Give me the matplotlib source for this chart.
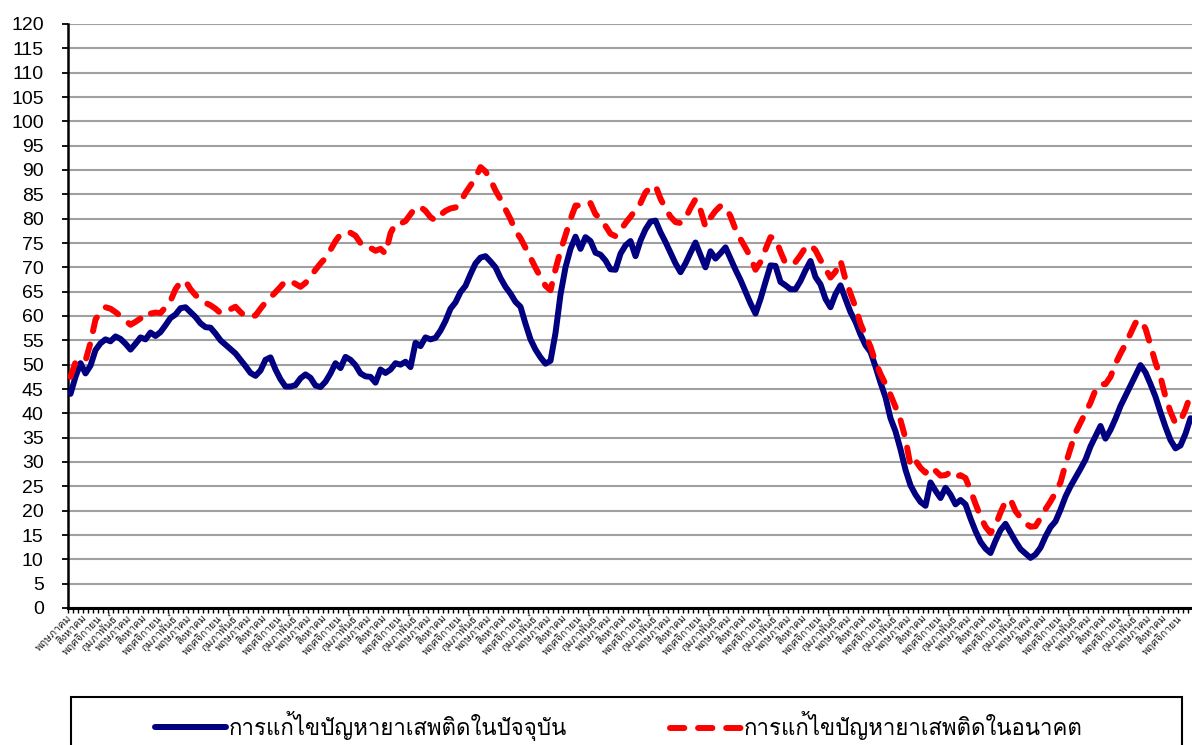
import matplotlib
matplotlib.use("Agg")
import matplotlib.pyplot as plt
from matplotlib import font_manager
from matplotlib.ft2font import FT2Font
from matplotlib.lines import Line2D
from matplotlib.patches import Rectangle
import numpy as np

# month labels shown every third month (quarterly), starting May
quarter_months = ["พฤษภาคม", "สิงหาคม", "พฤศจิกายน", "กุมภาพันธ์"]

series_names = ["การแก้ไขปัญหายาเสพติดในปัจจุบัน", "การแก้ไขปัญหายาเสพติดในอนาคต"]

present = [
    44.0, 47.5, 50.3, 48.2, 49.8, 53.0, 54.4, 55.2, 54.8, 55.8, 55.3, 54.3, 53.1, 54.3, 55.6,
    55.2, 56.6, 55.9, 56.7, 58.1, 59.6, 60.3, 61.6, 61.8, 60.8, 59.8, 58.5, 57.7, 57.6, 56.4,
    55.0, 54.1, 53.2, 52.3, 51.0, 49.7, 48.3, 47.7, 48.8, 51.0, 51.5, 49.0, 47.0, 45.5, 45.5,
    45.8, 47.2, 48.0, 47.3, 45.7, 45.4, 46.5, 48.2, 50.3, 49.3, 51.6, 51.0, 49.9, 48.2, 47.6,
    47.5, 46.3, 49.0, 48.3, 49.0, 50.3, 50.0, 50.6, 49.5, 54.5, 53.8, 55.6, 55.2, 55.5, 57.0,
    59.0, 61.5, 62.8, 64.9, 66.2, 68.6, 70.8, 72.0, 72.3, 71.2, 70.0, 67.8, 66.0, 64.6, 62.9,
    61.9, 58.4, 55.2, 53.1, 51.5, 50.2, 50.8, 56.5, 64.4, 70.0, 73.8, 76.3, 73.8, 76.2, 75.4,
    73.0, 72.6, 71.4, 69.6, 69.5, 72.8, 74.5, 75.4, 72.3, 75.5, 77.8, 79.4, 79.6, 77.2, 75.2,
    73.0, 70.8, 69.0, 70.8, 73.0, 75.1, 72.5, 70.0, 73.3, 71.8, 72.9, 74.1, 71.8, 69.5, 67.4,
    65.0, 62.6, 60.5, 63.5, 67.0, 70.4, 70.3, 67.0, 66.3, 65.5, 65.5, 67.2, 69.4, 71.3, 68.0,
    66.5, 63.5, 61.8, 64.5, 66.3, 63.5, 60.8, 58.8, 56.2, 54.0, 52.6, 49.6, 46.3, 43.3, 39.0,
    36.3, 32.6, 28.4, 25.2, 23.3, 21.8, 21.0, 25.8, 24.1, 22.6, 24.7, 23.3, 21.3, 22.2, 21.3,
    18.4, 15.8, 13.6, 12.2, 11.3, 13.8, 16.0, 17.3, 15.5, 13.7, 12.1, 11.2, 10.3, 11.0, 12.4,
    14.7, 16.6, 17.8, 20.2, 22.9, 25.0, 26.8, 28.6, 30.5, 33.2, 35.3, 37.4, 34.8, 36.6, 38.9,
    41.5, 43.6, 45.7, 47.8, 49.9, 48.4, 46.0, 43.4, 40.2, 37.2, 34.5, 32.8, 33.4, 35.8, 39.0,
]

future = [
    47.5, 50.5, 50.7, 50.8, 54.5, 59.3, 60.8, 61.8, 61.5, 60.8, 60.0, 59.1, 58.2, 58.8, 59.5,
    59.2, 60.5, 60.7, 60.6, 61.8, 63.1, 65.5, 67.0, 67.2, 65.5, 64.3, 63.3, 62.7, 62.2, 61.5,
    60.6, 60.7, 61.4, 61.9, 60.8, 59.9, 59.9, 60.1, 61.5, 62.8, 63.8, 64.9, 66.0, 67.2, 67.2,
    66.6, 66.0, 66.8, 68.0, 69.5, 70.8, 71.9, 73.6, 75.4, 76.8, 77.3, 77.1, 76.5, 75.0, 75.0,
    74.0, 73.4, 73.8, 72.8, 77.0, 79.0, 79.0, 79.5, 80.9, 82.3, 82.4, 81.6, 80.3, 79.6, 80.8,
    81.6, 82.1, 82.3, 83.4, 85.3, 86.8, 88.4, 90.6, 89.7, 88.0, 85.8, 84.0, 81.9, 79.9, 77.5,
    76.0, 74.0, 72.0, 69.9, 68.0, 66.2, 65.3, 69.6, 73.4, 76.6, 79.9, 82.7, 82.7, 82.5, 83.2,
    80.9, 80.0, 78.5, 76.9, 76.4, 77.6, 79.1, 80.4, 81.8, 83.2, 85.4, 86.4, 86.8, 84.1, 82.1,
    80.4, 79.3, 79.1, 80.1, 82.2, 84.0, 81.8, 78.3, 80.2, 81.6, 82.6, 82.4, 80.5, 77.8, 75.8,
    74.0, 72.1, 69.5, 71.1, 73.7, 76.2, 75.9, 73.2, 70.8, 70.6, 71.1, 72.5, 74.1, 74.6, 73.5,
    71.5, 69.7, 67.9, 69.1, 71.4, 67.5, 64.6, 61.8, 58.4, 56.0, 53.7, 50.5, 48.1, 46.0, 43.8,
    41.3, 38.6, 34.8, 29.2, 30.3, 28.8, 27.8, 29.0, 28.2, 27.2, 27.3, 27.9, 26.9, 27.3, 26.7,
    24.2, 21.4, 18.8, 16.7, 15.4, 17.0, 19.6, 21.9, 22.3, 19.9, 18.6, 17.4, 16.7, 16.8, 18.5,
    20.3, 21.9, 23.7, 25.8, 29.5, 32.8, 36.0, 38.1, 40.1, 42.2, 44.8, 46.0, 46.0, 47.5, 50.2,
    52.3, 54.2, 56.4, 58.6, 59.2, 57.4, 54.0, 50.4, 47.5, 43.4, 40.3, 37.9, 38.5, 40.8, 43.8,
]


def find_thai_font():
    # first installed family that actually has Thai glyphs
    for f in font_manager.fontManager.ttflist:
        try:
            if 0x0E01 in FT2Font(f.fname).get_charmap():
                return f.name
        except Exception:
            continue
    return "DejaVu Sans"


thai = [find_thai_font(), "DejaVu Sans"]

n = len(present)
x = np.arange(n)
tick_pos = x[::3]
tick_lab = [quarter_months[k % 4] for k in range(len(tick_pos))]

W, H = 1192, 745
fig = plt.figure(figsize=(W / 100, H / 100), dpi=100)
ax = fig.add_axes([68 / W, (H - 608) / H, 1125 / W, 584 / H])

ax.plot(x, present, color="#000080", lw=4.3, solid_capstyle="round",
        solid_joinstyle="round", zorder=3)
ax.plot(x, future, color="#FF0000", lw=4.3, dashes=(2.4, 2.3),
        dash_capstyle="round", dash_joinstyle="round", zorder=4)

ax.set_xlim(-0.5, n - 0.5)
ax.set_ylim(0, 120)
ax.set_yticks(np.arange(0, 121, 5))
ax.yaxis.grid(True, color="#A0A0A0", lw=1.5)
ax.set_axisbelow(True)

for side in ["top", "right"]:
    ax.spines[side].set_visible(False)
ax.spines["left"].set_linewidth(1.8)
ax.spines["bottom"].set_linewidth(2.2)

ax.tick_params(axis="y", length=4.5, width=1.3, pad=13, labelsize=14)
for lab in ax.get_yticklabels():
    lab.set_family("Liberation Sans")

ax.set_xticks(tick_pos)
ax.set_xticklabels(tick_lab, family=thai, fontsize=7.5, color="#202020",
                   rotation=45, ha="right", va="center", rotation_mode="anchor")
ax.tick_params(axis="x", which="major", length=0, pad=6)
ax.set_xticks(np.arange(-0.5, n, 1), minor=True)
ax.tick_params(axis="x", which="minor", length=3.5, width=1.0)

# legend box (runs off the bottom of the picture like the original)
fig.patches.append(Rectangle((71 / W, -0.05), (1182 - 71) / W, (H - 697) / H + 0.05,
                             transform=fig.transFigure, fill=False,
                             ec="black", lw=1.5))

h1 = Line2D([], [], color="#000080", lw=4.3, solid_capstyle="round")
h2 = Line2D([], [], color="#FF0000", lw=4.3, dashes=(2.4, 2.3),
            dash_capstyle="round")
for h, label, x0 in [(h1, series_names[0], 155), (h2, series_names[1], 670)]:
    fig.legend([h], [label], loc="center left",
               bbox_to_anchor=(x0 / W, (H - 726) / H), frameon=False,
               prop={"family": thai, "size": 16}, handlelength=3.2,
               handletextpad=0.1, borderpad=0, borderaxespad=0)

fig.savefig("out.png", dpi=100)
plt.close(fig)
